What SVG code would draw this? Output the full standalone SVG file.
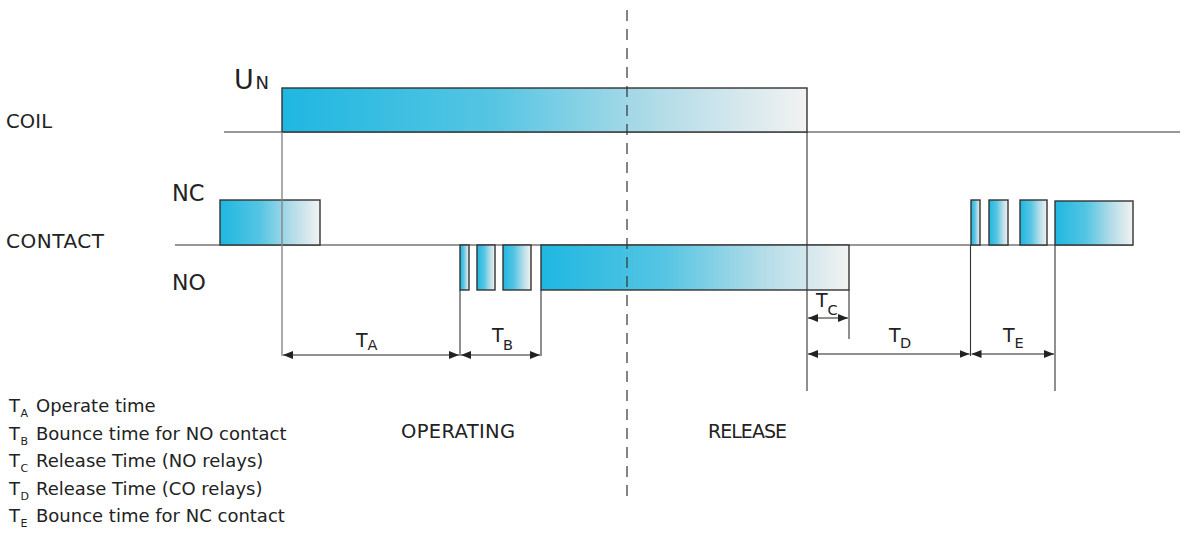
<svg xmlns="http://www.w3.org/2000/svg" width="1185" height="539" viewBox="0 0 1185 539">
<defs>
<linearGradient id="g" x1="0" y1="0" x2="1" y2="0">
<stop offset="0" stop-color="#1fb7e1"/>
<stop offset="0.4" stop-color="#55c5e3"/>
<stop offset="0.72" stop-color="#b3dce8"/>
<stop offset="1" stop-color="#f2f2f2"/>
</linearGradient>
<marker id="ah" viewBox="0 0 10 8" refX="10" refY="4" markerWidth="10" markerHeight="8" markerUnits="userSpaceOnUse" orient="auto-start-reverse">
<path d="M0,0 L10,4 L0,8 Z" fill="#222"/>
</marker>
</defs>
<style>
.box{fill:url(#g);stroke:#333;stroke-width:1.4}
.ln{stroke:#333;stroke-width:1.1;fill:none}
.gl{stroke:#888;stroke-width:1.4;fill:none}
.dash{stroke:#333;stroke-width:1.2;stroke-dasharray:11 8;fill:none}
.arr{stroke:#222;stroke-width:1.1;fill:none;marker-start:url(#ah);marker-end:url(#ah)}
text{font-family:"DejaVu Sans",sans-serif;fill:#222}
.lab{font-size:19px}
.sub{font-size:14.5px}
.leg{font-size:18px}
.lsub{font-size:11px}
</style>
<rect width="1185" height="539" fill="#fff"/>

<g id="axes">
<line class="ln" x1="224" y1="132" x2="1180" y2="132"/>
<line class="ln" x1="175" y1="245" x2="1133" y2="245"/>
</g>

<g id="coil-pulse">
<rect class="box" x="282" y="88" width="525" height="44"/>
</g>

<g id="nc-initial">
<rect class="box" x="220" y="200" width="100" height="45"/>
</g>

<g id="no-bounce">
<rect class="box" x="460" y="245" width="9" height="45"/>
<rect class="box" x="477" y="245" width="18" height="45"/>
<rect class="box" x="503" y="245" width="28" height="45"/>
</g>

<g id="no-closed">
<rect class="box" x="541" y="245" width="308" height="45"/>
</g>

<g id="nc-bounce">
<rect class="box" x="971" y="200" width="9" height="45"/>
<rect class="box" x="989" y="200" width="19" height="45"/>
<rect class="box" x="1020" y="200" width="27" height="45"/>
</g>

<g id="nc-closed">
<rect class="box" x="1055" y="201" width="78" height="44"/>
</g>

<g id="connectors">
<line class="gl" x1="282" y1="132" x2="282" y2="356"/>
<line class="ln" x1="460" y1="290" x2="460" y2="356"/>
<line class="ln" x1="541" y1="290" x2="541" y2="356"/>
<line class="ln" x1="807" y1="132" x2="807" y2="391"/>
<line class="ln" x1="849" y1="290" x2="849" y2="339"/>
<line class="ln" x1="970.5" y1="245" x2="970.5" y2="356"/>
<line class="ln" x1="1055" y1="245" x2="1055" y2="391"/>
<line class="dash" x1="627" y1="10" x2="627" y2="502"/>
<line class="arr" x1="283" y1="355" x2="459" y2="355"/>
<line class="arr" x1="461" y1="355" x2="540" y2="355"/>
<line class="arr" x1="808" y1="318" x2="848" y2="318"/>
<line class="arr" x1="808" y1="354" x2="969.5" y2="354"/>
<line class="arr" x1="971.5" y1="354" x2="1054" y2="354"/>
</g>

<g id="labels">
<text x="6" y="127.7" font-size="19.5" textLength="46">COIL</text>
<text x="6" y="247.7" font-size="20" textLength="98">CONTACT</text>
<text x="172" y="201" font-size="22.5">NC</text>
<text x="172" y="290" font-size="22">NO</text>
<text x="234" y="89.3" font-size="27">U</text>
<text x="255.5" y="89.3" font-size="18">N</text>
<text x="401" y="438.3" font-size="19.5" textLength="114">OPERATING</text>
<text x="708" y="438.3" font-size="19" textLength="79">RELEASE</text>

<text class="lab" x="356" y="347">T</text><text class="sub" x="367.5" y="350">A</text>
<text class="lab" x="492" y="342">T</text><text class="sub" x="503" y="349.5">B</text>
<text class="lab" x="816" y="307">T</text><text class="sub" x="827.5" y="315">C</text>
<text class="lab" x="889" y="341.7">T</text><text class="sub" x="900" y="347.7">D</text>
<text class="lab" x="1003" y="341.7">T</text><text class="sub" x="1014.5" y="347.7">E</text>
</g>

<g id="legend">
<text class="leg" x="9" y="412">T</text><text class="lsub" x="20.5" y="417">A</text><text class="leg" x="36" y="412">Operate time</text>
<text class="leg" x="9" y="439.5">T</text><text class="lsub" x="20.5" y="444.5">B</text><text class="leg" x="36" y="439.5">Bounce time for NO contact</text>
<text class="leg" x="9" y="467">T</text><text class="lsub" x="20.5" y="472">C</text><text class="leg" x="36" y="467">Release Time (NO relays)</text>
<text class="leg" x="9" y="494.5">T</text><text class="lsub" x="20.5" y="499.5">D</text><text class="leg" x="36" y="494.5">Release Time (CO relays)</text>
<text class="leg" x="9" y="522">T</text><text class="lsub" x="20.5" y="527">E</text><text class="leg" x="36" y="522">Bounce time for NC contact</text>
</g>
</svg>
